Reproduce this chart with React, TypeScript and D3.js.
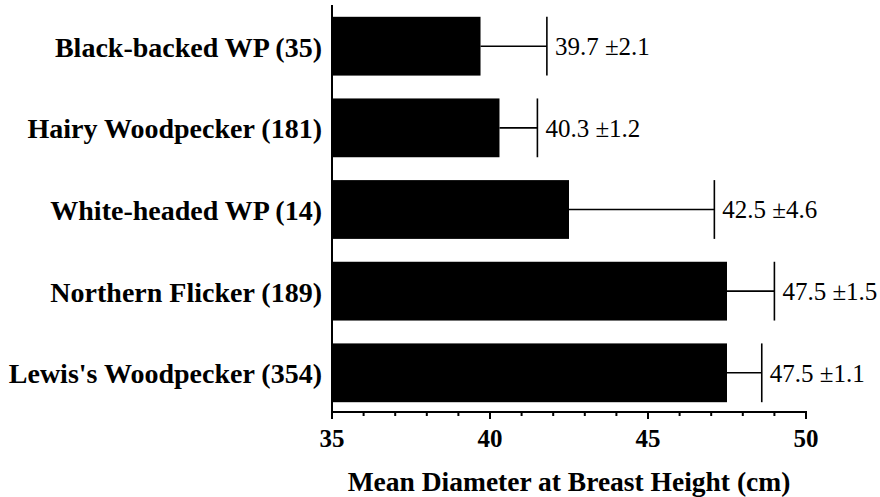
import React from "react";
import * as d3 from "d3";

const categories = [
  "Black-backed WP (35)",
  "Hairy Woodpecker (181)",
  "White-headed WP (14)",
  "Northern Flicker (189)",
  "Lewis's Woodpecker (354)",
];
const means = [39.7, 40.3, 42.5, 47.5, 47.5];
const errors = [2.1, 1.2, 4.6, 1.5, 1.1];
const majorTicks = [35, 40, 45, 50];
const minorTicks = [36, 37, 38, 39, 41, 42, 43, 44, 46, 47, 48, 49];
const xTitle = "Mean Diameter at Breast Height (cm)";

const W = 880;
const H = 497;
const FONT = "'Liberation Serif', 'Times New Roman', Times, serif";

export default function App() {
  const x = d3.scaleLinear().domain([35, 50]).range([332, 806]);
  const y = d3
    .scaleBand<string>()
    .domain(categories)
    .range([7, 412])
    .paddingInner(0.28)
    .paddingOuter(0.12);
  const axisY = 412;
  const bw = y.bandwidth();

  return (
    <svg
      width={W}
      height={H}
      style={{ position: "absolute", left: 0, top: 0, background: "#fff" }}
    >
      {categories.map((c, i) => {
        const y0 = y(c) as number;
        const cy = y0 + bw / 2;
        const xEnd = x(means[i]);
        const xErr = x(means[i] + errors[i]);
        return (
          <g key={c}>
            <rect x={x(35)} y={y0} width={xEnd - x(35)} height={bw} fill="#000" />
            <line x1={xEnd} x2={xErr} y1={cy} y2={cy} stroke="#000" strokeWidth={1.6} />
            <line x1={xErr} x2={xErr} y1={y0} y2={y0 + bw} stroke="#000" strokeWidth={1.6} />
            <text
              x={xErr + 8}
              y={cy}
              dy="0.35em"
              fontFamily={FONT}
              fontSize={25}
              fill="#000"
            >
              {`${means[i].toFixed(1)} ±${errors[i].toFixed(1)}`}
            </text>
            <text
              x={322}
              y={cy}
              dy="0.37em"
              textAnchor="end"
              fontFamily={FONT}
              fontSize={28}
              fontWeight="bold"
              fill="#000"
            >
              {c}
            </text>
          </g>
        );
      })}
      {/* axes */}
      <line x1={x(35)} x2={x(35)} y1={5} y2={axisY + 1} stroke="#000" strokeWidth={2} />
      <line x1={x(35) - 1} x2={x(50) + 1} y1={axisY} y2={axisY} stroke="#000" strokeWidth={2} />
      {majorTicks.map((t) => (
        <g key={`M${t}`}>
          <line x1={x(t)} x2={x(t)} y1={axisY} y2={axisY + 7} stroke="#000" strokeWidth={2} />
          <text
            x={x(t)}
            y={447}
            textAnchor="middle"
            fontFamily={FONT}
            fontSize={25}
            fontWeight="bold"
            fill="#000"
          >
            {t}
          </text>
        </g>
      ))}
      {minorTicks.map((t) => (
        <line key={`m${t}`} x1={x(t)} x2={x(t)} y1={axisY} y2={axisY + 4} stroke="#000" strokeWidth={2} />
      ))}
      <text
        x={(x(35) + x(50)) / 2}
        y={491}
        textAnchor="middle"
        fontFamily={FONT}
        fontSize={27.5}
        fontWeight="bold"
        fill="#000"
      >
        {xTitle}
      </text>
    </svg>
  );
}
